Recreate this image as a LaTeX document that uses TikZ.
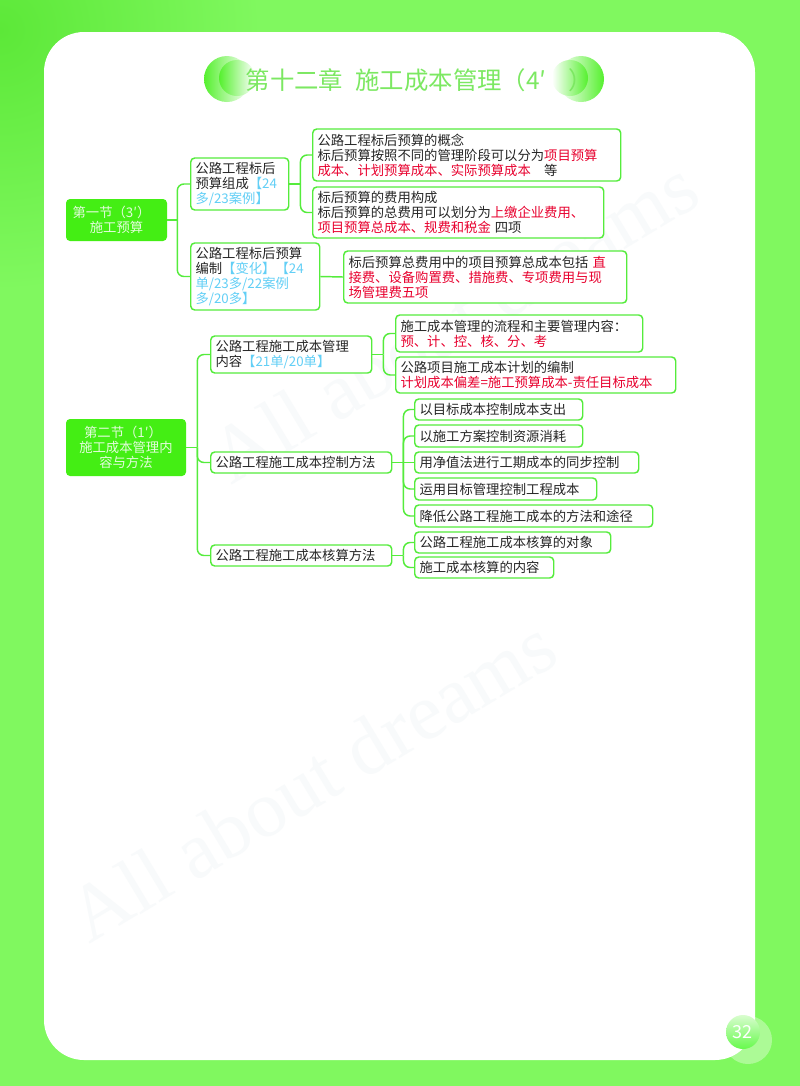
\documentclass[tikz,border=0pt]{standalone}
\usepackage{fontspec}
\setmainfont{Noto Sans CJK SC}
\newfontfamily\wmfont{Liberation Serif}
\usetikzlibrary{calc,fadings,shadings}
\definecolor{bgg}{HTML}{80F85F}
\definecolor{bgd}{HTML}{5CE838}
\definecolor{orn}{HTML}{55F02E}
\definecolor{bord}{HTML}{55EC3C}
\definecolor{head}{HTML}{44EE14}
\definecolor{ttl}{HTML}{7CE862}
\definecolor{redt}{HTML}{E8002E}
\definecolor{cyant}{HTML}{62CFF6}
\definecolor{inkt}{HTML}{262626}
\definecolor{wm}{HTML}{F8FAFB}
\newcommand{\rd}[1]{\textcolor{redt}{#1}}
\newcommand{\cy}[1]{\textcolor{cyant}{#1}}
\tikzset{
  x=0.75pt,y=-0.75pt,
  card/.style={draw=bord,line width=1.1pt,rounded corners=3pt,fill=white,inner xsep=3.6pt,inner ysep=0pt,align=left,font=\fontsize{10pt}{11.2pt}\selectfont,text=inkt,anchor=west},
  headbox/.style={fill=head,rounded corners=3pt,inner sep=0pt,align=center,font=\fontsize{10pt}{11.2pt}\selectfont,text=white!85!head},
  conn/.style={draw=bord,line width=1.1pt},
  elbow/.style={conn,rounded corners=5pt},
  wmark/.style={text=wm,font=\wmfont\fontsize{60pt}{60pt}\selectfont,rotate=31,anchor=south west,inner sep=0pt},
}
% card{name}{x1}{y1}{x2}{y2}{text}
\newcommand{\card}[6]{\node[card,text width={(#4-#2)*0.75pt-7.2pt},minimum height={(#5-#3)*0.75pt}] (#1) at (#2,{(#3+#5)/2}) {#6};}
\begin{document}
\begin{tikzpicture}
\useasboundingbox (0,0) rectangle (800,1086);
\fill[bgg] (0,0) rectangle (800,1086);
\begin{scope}
\clip (0,0) rectangle (800,1086);
\shade[inner color=bgd,outer color=bgg] (0,30) circle[radius=260];
\end{scope}
\fill[white,rounded corners=30pt] (44,32) rectangle (755,1060);
% watermark
\node[wmark] at (90,946) {All about dreams};
\node[wmark] at (232,487) {All about dreams};
% page badge
\fill[white,opacity=.35] (748,1040) circle[radius=24];
\shade[top color=white!70!bgg,bottom color=bgg!80!green] (743,1032) circle[radius=17];
\node[text=white,font=\fontsize{13.5pt}{14pt}\selectfont,inner sep=0pt] (pg) at (742,1032) {32};
% title ornaments
\shade[left color=orn,right color=white] (227,79) circle[radius=23];
\shade[left color=orn,right color=white] (237,78) circle[radius=18];
\shade[left color=white,right color=orn] (581,79) circle[radius=23];
\shade[left color=white,right color=orn] (570,78) circle[radius=18];
\node[text=ttl,font=\fontsize{18.3pt}{20pt}\selectfont,anchor=west,inner sep=0pt] (title) at (245.5,80) {第十二章\hspace{.5em}施工成本管理（4′\hspace{.9em}）};
% section 1
\node[headbox,minimum width={101*0.75pt},minimum height={42*0.75pt}] (s1) at (116.5,220) {第一节（3′）\hspace*{7.5pt}\\施工预算};
\card{a}{190}{158}{288}{210}{公路工程标后\\预算组成\cy{【24\\多/23案例】}}
\card{b}{190}{243}{319}{310}{公路工程标后预算\\编制\cy{【变化】【24\\单/23多/22案例\\多/20多】}}
\card{a1}{312}{129}{620}{181}{公路工程标后预算的概念\\标后预算按照不同的管理阶段可以分为\rd{项目预算\\成本、计划预算成本、实际预算成本}\hspace{1em}等}
\card{a2}{312}{187}{603}{238}{标后预算的费用构成\\标后预算的总费用可以划分为\rd{上缴企业费用、\\项目预算总成本、规费和税金}\hspace{.3em}四项}
\card{b1}{343}{251}{626}{303}{标后预算总费用中的项目预算总成本包括\hspace{.3em}\rd{直\\接费、设备购置费、措施费、专项费用与现\\场管理费五项}}
% section 2
\node[headbox,minimum width={120*0.75pt},minimum height={57*0.75pt}] (s2) at (126,447.5) {第二节（1′）\hspace*{4.5pt}\\施工成本管理内\\容与方法};
\card{c}{210}{336}{371}{373}{公路工程施工成本管理\\内容\cy{【21单/20单】}}
\card{d}{210}{452}{391}{473}{公路工程施工成本控制方法}
\card{e}{210}{545}{391}{566}{公路工程施工成本核算方法}
\card{c1}{395}{315}{642}{352}{施工成本管理的流程和主要管理内容：\\\rd{预、计、控、核、分、考}}
\card{c2}{395}{357}{675}{393}{公路项目施工成本计划的编制\\\rd{计划成本偏差=施工预算成本-责任目标成本}}
\card{d1}{414}{399}{582}{420}{以目标成本控制成本支出}
\card{d2}{414}{425}{582}{447}{以施工方案控制资源消耗}
\card{d3}{414}{452}{638}{473}{用净值法进行工期成本的同步控制}
\card{d4}{414}{478}{596}{500}{运用目标管理控制工程成本}
\card{d5}{414}{505}{652}{527}{降低公路工程施工成本的方法和途径}
\card{e1}{414}{532}{610}{553}{公路工程施工成本核算的对象}
\card{e2}{414}{557}{553}{578}{施工成本核算的内容}
% connectors
\draw[conn] (s1.east) -- ++(10,0) coordinate (js1);
\draw[elbow] (js1) |- (a.west);
\draw[elbow] (js1) |- (b.west);
\draw[conn] (a.east) -- ++(11,0) coordinate (ja);
\draw[elbow] (ja) |- (a1.west);
\draw[elbow] (ja) |- (a2.west);
\draw[conn] (b.east) -- (b1.west);
\draw[conn] (s2.east) -- ++(11,0) coordinate (js2);
\draw[elbow] (js2) |- (c.west);
\draw[elbow] (js2) |- (d.west);
\draw[elbow] (js2) |- (e.west);
\draw[conn] (c.east) -- ++(11,0) coordinate (jc);
\draw[elbow] (jc) |- (c1.west);
\draw[elbow] (jc) |- (c2.west);
\draw[conn] (d.east) -- ++(11,0) coordinate (jd);
\draw[elbow] (jd) |- (d1.west);
\draw[elbow] (jd) |- (d2.west);
\draw[conn] (jd) -- (d3.west);
\draw[elbow] (jd) |- (d4.west);
\draw[elbow] (jd) |- (d5.west);
\draw[conn] (e.east) -- ++(11,0) coordinate (je);
\draw[elbow] (je) |- (e1.west);
\draw[elbow] (je) |- (e2.west);
\end{tikzpicture}
\end{document}
